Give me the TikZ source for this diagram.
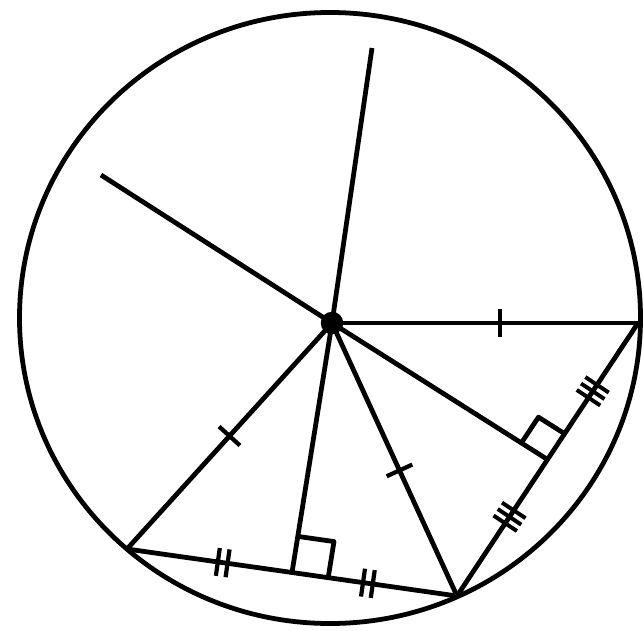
\documentclass[tikz,border=0pt]{standalone}
\usepackage{tikz}
\usetikzlibrary{calc}
\usetikzlibrary{decorations.markings}

\tikzset{
  onetick/.style={postaction={decorate,decoration={markings,
    mark=at position #1 with {\draw[line width=3pt] (0,-10pt) -- (0,10pt);}}}},
  twoticks/.style={postaction={decorate,decoration={markings,
    mark=at position #1 with {\draw[line width=3pt] (-3.5pt,-10pt) -- (-3.5pt,10pt) (3.5pt,-10pt) -- (3.5pt,10pt);}}}},
  threeticks/.style={postaction={decorate,decoration={markings,
    mark=at position #1 with {\draw[line width=2.8pt] (-5.5pt,-10pt) -- (-5.5pt,10pt) (0,-10pt) -- (0,10pt) (5.5pt,-10pt) -- (5.5pt,10pt);}}}}
}

\begin{document}
\begin{tikzpicture}[x=0.025cm,y=-0.025cm,line width=3.4pt,line join=round]
\useasboundingbox (0,0) rectangle (643,630);
% circle and its points
\draw (330,318) circle[x radius=310.5,y radius=-305.5];
\coordinate (O) at (332,323);
\coordinate (A) at (127,549);
\coordinate (B) at (457,596);
\coordinate (C) at (638,323);
\coordinate (T) at (372,48);
\coordinate (L) at (101,175);
% radii
\draw (O) -- (T) (O) -- (L);
\draw[onetick=0.55] (O) -- (C);
\draw[onetick=0.5] (O) -- (A);
\draw[onetick=0.54] (O) -- (B);
% chords
\draw[twoticks=0.29,twoticks=0.73] (A) -- (B);
\draw[threeticks=0.29,threeticks=0.75] (B) -- (C);
% perpendiculars to the chords
\coordinate (M1) at ($(A)!0.5!(B)$);
\coordinate (M2) at ($(B)!0.5!(C)$);
\draw (O) -- (M1) (O) -- (M2);
\coordinate (M1b) at ($(M1)!26pt!(B)$);
\coordinate (M1o) at ($(M1)!26pt!(O)$);
\draw (M1b) -- ($(M1b)+(M1o)-(M1)$) -- (M1o);
\coordinate (M2c) at ($(M2)!22pt!(C)$);
\coordinate (M2o) at ($(M2)!22pt!(O)$);
\draw (M2c) -- ($(M2c)+(M2o)-(M2)$) -- (M2o);
\fill (O) circle (8pt);
\end{tikzpicture}
\end{document}
